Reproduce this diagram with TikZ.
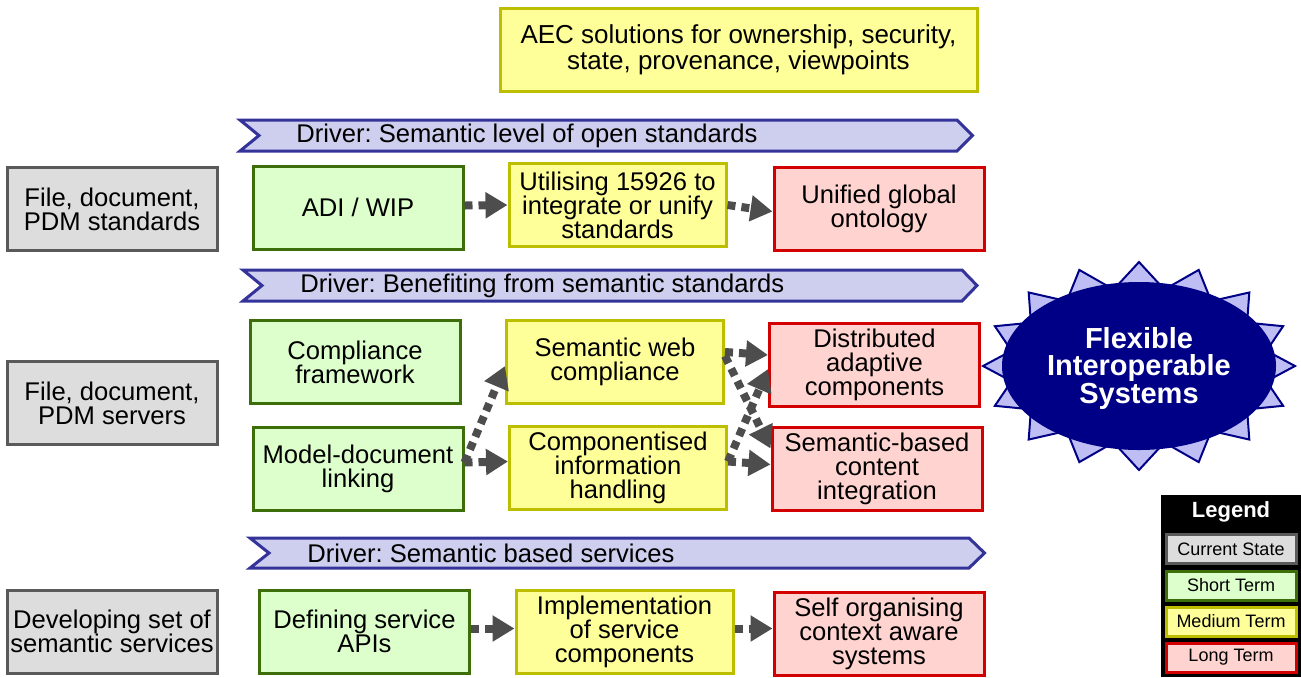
\documentclass[tikz,border=0pt]{standalone}
\usepackage{fontspec}
\setmainfont{Liberation Sans}
\usetikzlibrary{arrows.meta}

\definecolor{curfill}{RGB}{221,221,221}
\definecolor{curline}{RGB}{90,90,90}
\definecolor{shortfill}{RGB}{221,255,204}
\definecolor{shortline}{RGB}{60,110,10}
\definecolor{medfill}{RGB}{255,255,153}
\definecolor{medline}{RGB}{190,190,0}
\definecolor{longfill}{RGB}{255,212,208}
\definecolor{longline}{RGB}{210,0,0}
\definecolor{drvfill}{RGB}{206,206,238}
\definecolor{drvline}{RGB}{51,51,153}
\definecolor{goalfill}{RGB}{0,0,135}
\definecolor{spikefill}{RGB}{190,190,245}
\definecolor{arrowgray}{RGB}{77,77,77}

\newcommand{\boxfont}{\fontsize{12.8}{12}\selectfont\lineskiplimit=-20pt\relax}
\frenchspacing

\tikzset{
  box/.style={draw, line width=1.5pt, align=center, minimum width=105pt,
    minimum height=41.5pt, inner sep=1pt, font=\boxfont},
  curbox/.style={box, fill=curfill, draw=curline},
  shortbox/.style={box, fill=shortfill, draw=shortline},
  medbox/.style={box, fill=medfill, draw=medline, minimum width=108.5pt},
  longbox/.style={box, fill=longfill, draw=longline},
  driver/.style={fill=drvfill, draw=drvline, line width=1.5pt},
  drvtext/.style={anchor=west, inner sep=0pt, font=\boxfont},
  dep/.style={draw=arrowgray, line width=4pt, dash pattern=on 4pt off 3pt,
    -{Triangle[length=11pt,width=12.5pt]}},
  legitem/.style={draw, line width=1.5pt, minimum width=65pt, minimum height=14.5pt,
    inner sep=0pt, font=\fontsize{9}{10}\selectfont}
}

\begin{document}
\begin{tikzpicture}[x=0.5pt,y=-0.5pt]
    \useasboundingbox (0,0) rectangle (1301,677);

    % top goal box
    \node[medbox, minimum width=238.5pt, font=\fontsize{13}{12}\selectfont] (aec) at (738.5,50) {AEC solutions for ownership, security,\\state, provenance, viewpoints};

    % driver banners
    \draw[driver] (240,120) -- (957,120) -- (972.5,135.5) -- (957,151) -- (240,151) -- (259,135.5) -- cycle;
    \node[drvtext] (drv1) at (296,135.5) {Driver: Semantic level of open standards};
    \draw[driver] (243,270) -- (962,270) -- (977,285.5) -- (962,301) -- (243,301) -- (262,285.5) -- cycle;
    \node[drvtext] (drv2) at (300,285.5) {Driver: Benefiting from semantic standards};
    \draw[driver] (250,538) -- (969,538) -- (984.5,553) -- (969,568) -- (250,568) -- (269,553) -- cycle;
    \node[drvtext] (drv3) at (307,553) {Driver: Semantic based services};

    % row 1: standards
    \node[curbox] (cur1) at (112,209) {File, document,\\PDM standards};
    \node[shortbox] (adi) at (358,207.5) {ADI / WIP};
    \node[medbox] (util) at (617.5,205) {Utilising 15926 to\\integrate or unify\\standards};
    \node[longbox] (onto) at (879,208.5) {Unified global\\ontology};

    % row 2: servers
    \node[curbox] (cur2) at (112,403) {File, document,\\PDM servers};
    \node[shortbox] (comp) at (355,362) {Compliance\\framework};
    \node[shortbox] (mdl) at (358,468.5) {Model-document\\linking};
    \node[medbox] (swc) at (615,362) {Semantic web\\compliance};
    \node[medbox] (cih) at (618,467.5) {Componentised\\information\\handling};
    \node[longbox] (dac) at (874.5,365) {Distributed\\adaptive\\components};
    \node[longbox] (sbc) at (877,468.5) {Semantic-based\\content\\integration};

    % row 3: services
    \node[curbox] (cur3) at (112,631.5) {Developing set of\\semantic services};
    \node[shortbox] (apis) at (364.5,631.5) {Defining service\\APIs};
    \node[medbox] (impl) at (624.5,631.5) {Implementation\\of service\\components};
    \node[longbox] (self) at (879,633.5) {Self organising\\context aware\\systems};

    % dependencies
    \draw[dep] ([yshift=1pt]adi.east) -- ([yshift=0pt]util.west);
    \draw[dep] (util.east) -- ([yshift=-1.5pt]onto.west);
    \draw[dep] ([yshift=3pt]mdl.east) -- ([yshift=3pt]cih.west);
    \draw[dep] ([yshift=3pt]mdl.east) -- ([yshift=-2pt]swc.west);
    \draw[dep] ([yshift=5pt]swc.east) -- ([yshift=5pt]dac.west);
    \draw[dep] ([yshift=3pt]swc.east) -- ([yshift=10pt]sbc.west);
    \draw[dep] ([yshift=3pt]cih.east) -- ([yshift=-2pt]dac.west);
    \draw[dep] ([yshift=3pt]cih.east) -- ([yshift=2pt]sbc.west);
    \draw[dep] ([yshift=1.5pt]apis.east) -- ([yshift=1.5pt]impl.west);
    \draw[dep] ([yshift=1.5pt]impl.east) -- ([yshift=2.5pt]self.west);

    % goal: spiked ellipse
    \draw[fill=spikefill, draw=goalfill, line width=1pt, line join=miter]
      (1295,366) \foreach \k in {0,...,15} {
        -- ({1139+130*cos((\k+0.5)*22.5)},{366+78*sin((\k+0.5)*22.5)})
        -- ({1139+156*cos((\k+1)*22.5)},{366+104*sin((\k+1)*22.5)}) } -- cycle;
    \fill[goalfill] (1139,366) ellipse [x radius=137, y radius=84];
    \node[align=center, text=white, font=\fontsize{14.5}{13.75}\selectfont\bfseries] (fis) at (1139,368) {Flexible\\Interoperable\\Systems};

    % legend
    \fill[black] (1161,495) rectangle (1301,677);
    \node[text=white, font=\fontsize{11}{12}\selectfont\bfseries] (leg) at (1231,512) {Legend};
    \node[legitem, fill=curfill, draw=curline] (legcur) at (1231,549) {Current State};
    \node[legitem, fill=shortfill, draw=shortline] (legshort) at (1231,585.5) {Short Term};
    \node[legitem, fill=medfill, draw=medline] (legmed) at (1231,621.5) {Medium Term};
    \node[legitem, fill=longfill, draw=longline] (leglong) at (1231,657.5) {Long Term};
\end{tikzpicture}
\end{document}
